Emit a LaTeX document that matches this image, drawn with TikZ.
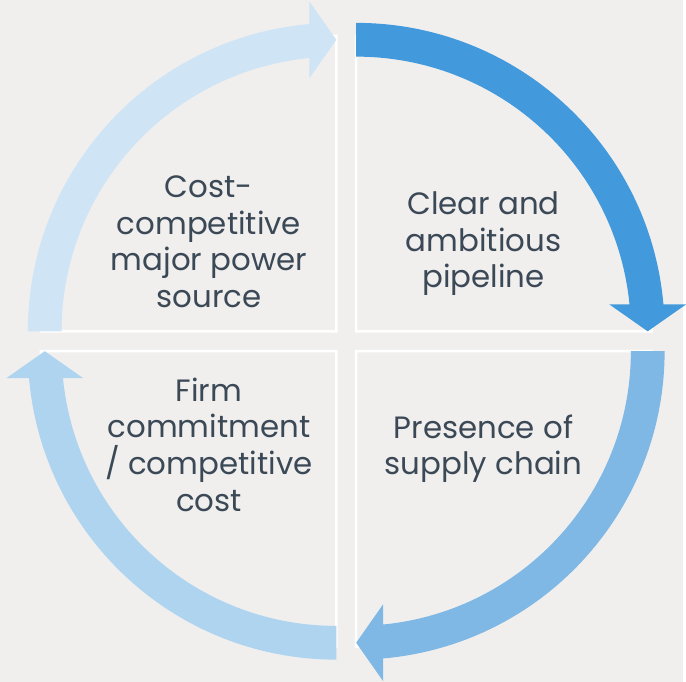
\documentclass[tikz,border=0pt]{standalone}
\usepackage{fontspec}
\setmainfont{Poppins}

\definecolor{bgGray}{HTML}{F0EFEE}
\definecolor{blueA}{HTML}{4299DB}
\definecolor{blueB}{HTML}{7FB8E4}
\definecolor{blueC}{HTML}{AED4F0}
\definecolor{blueD}{HTML}{CFE4F5}
\definecolor{inkGray}{HTML}{3B4856}

\tikzset{
 quadline/.style={white,line width=2.5pt},
 label/.style={text=inkGray,align=center,font=\fontsize{31}{37}\selectfont}
}

\begin{document}
\begin{tikzpicture}[x=1pt,y=1pt]
 \fill[bgGray] (-348,-342) rectangle (338,343);

 % quadrants
 \foreach \a in {0,90,180,270}
  \draw[quadline,rotate=\a] (10,10) -- (10,307) arc[start angle=90,end angle=0,radius=297] -- cycle;

 % arrows
 \fill[blueA] (10,320) arc[start angle=90,end angle=5,radius=310] -- (341.5,37) -- (303,10) -- (264.5,37)
  -- (284.7,37) arc[start angle=5.6,end angle=90,radius=276] -- cycle;
 \fill[blueB,rotate=-90] (10,320) arc[start angle=90,end angle=5,radius=310] -- (341.5,37) -- (303,10) -- (264.5,37)
  -- (284.7,37) arc[start angle=5.6,end angle=90,radius=276] -- cycle;
 \fill[blueC,rotate=180] (10,320) arc[start angle=90,end angle=5,radius=310] -- (341.5,37) -- (303,10) -- (264.5,37)
  -- (284.7,37) arc[start angle=5.6,end angle=90,radius=276] -- cycle;
 \fill[blueD,rotate=90] (10,320) arc[start angle=90,end angle=5,radius=310] -- (341.5,37) -- (303,10) -- (264.5,37)
  -- (284.7,37) arc[start angle=5.6,end angle=90,radius=276] -- cycle;

 \node[label] (cost) at (-138,100) {Cost-\\competitive\\major power\\source};
 \node[label] (pipeline) at (138,98) {Clear and\\ambitious\\pipeline};
 \node[label] (supply) at (138,-108) {Presence of\\supply chain};
 \node[label] (commit) at (-138,-104) {Firm\\commitment\\/ competitive\\cost};
\end{tikzpicture}
\end{document}
